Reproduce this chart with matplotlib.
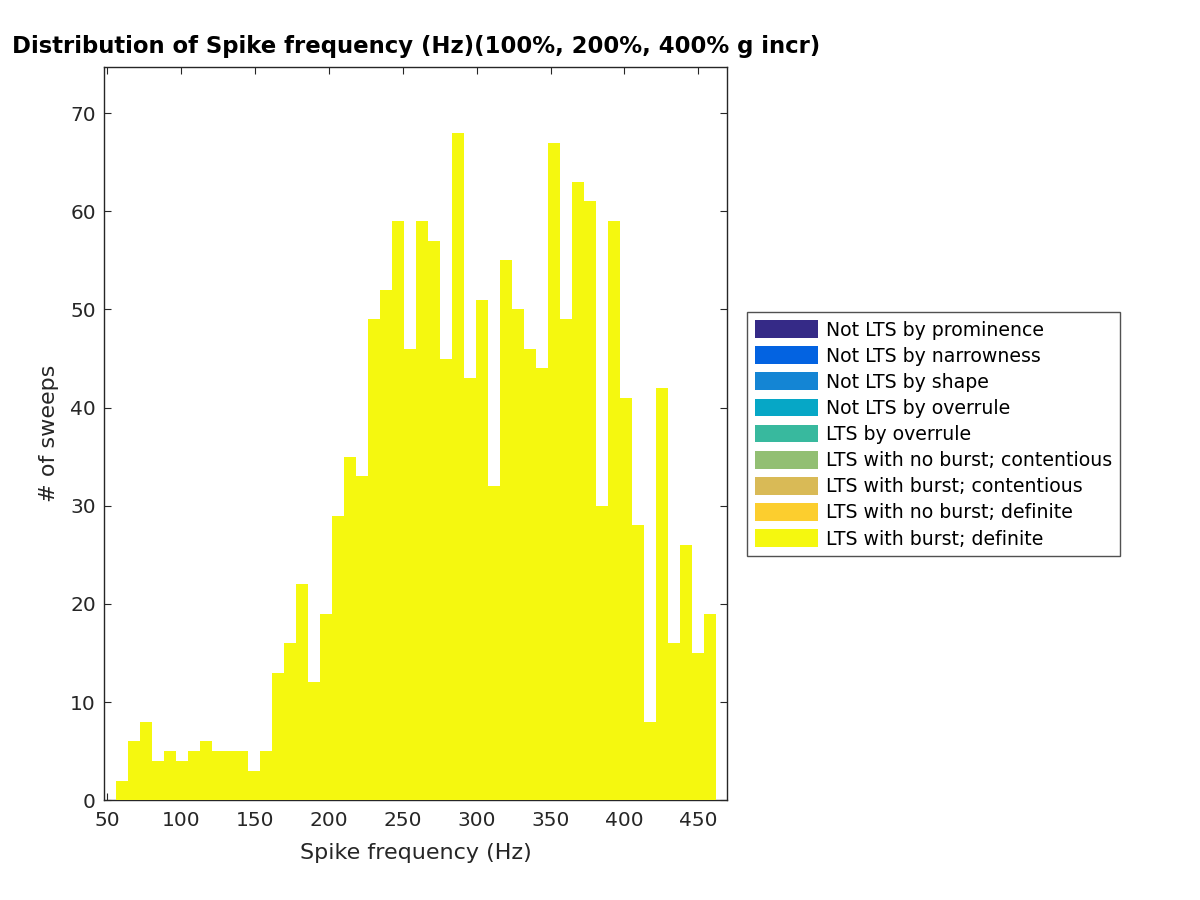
import matplotlib
matplotlib.use('Agg')
import matplotlib.pyplot as plt
import numpy as np

# categories of the stacked histogram (top of legend first)
categories = ['Not LTS by prominence', 'Not LTS by narrowness', 'Not LTS by shape',
              'Not LTS by overrule', 'LTS by overrule', 'LTS with no burst; contentious',
              'LTS with burst; contentious', 'LTS with no burst; definite',
              'LTS with burst; definite']
colors = ['#352a87', '#0363e1', '#1485d4', '#06a7c6', '#38b99e',
          '#92bf73', '#d9ba56', '#fcce2e', '#f5f80f']

# bin edges (Hz)
bin_edges = np.linspace(55.9, 461.9, 51)

# counts per bin, only the last category has sweeps
counts_burst_definite = [2, 6, 8, 4, 5, 4, 5, 6, 5, 5,
                         5, 3, 5, 13, 16, 22, 12, 19, 29, 35,
                         33, 49, 52, 59, 46, 59, 57, 45, 68, 43,
                         51, 32, 55, 50, 46, 44, 67, 49, 63, 61,
                         30, 59, 41, 28, 8, 42, 16, 26, 15, 19]
n_bins = len(counts_burst_definite)
counts = {c: [0] * n_bins for c in categories}
counts['LTS with burst; definite'] = counts_burst_definite

dark = '#262626'
plt.rcParams['font.family'] = 'DejaVu Sans'

fig = plt.figure(figsize=(12, 9), dpi=100)
ax = fig.add_axes([0.0869, 0.1108, 0.5192, 0.8148])

lefts = bin_edges[:-1]
widths = np.diff(bin_edges)
bottom = np.zeros(n_bins)
handles = []
for c, col in zip(categories, colors):
    h = np.array(counts[c], dtype=float)
    b = ax.bar(lefts, h, width=widths, bottom=bottom, align='edge',
               color=col, linewidth=0, label=c, zorder=1)
    handles.append(b)
    bottom += h

ax.set_xlim(48, 469.6)
ax.set_ylim(0, 74.7)
ax.set_xticks([50, 100, 150, 200, 250, 300, 350, 400, 450])
ax.set_yticks([0, 10, 20, 30, 40, 50, 60, 70])

ax.set_axisbelow(True)
for s in ax.spines.values():
    s.set_color(dark)
    s.set_linewidth(1.0)
    s.set_zorder(0.5)
ax.tick_params(direction='in', length=5, width=0.8, color=dark,
               labelcolor=dark, labelsize=14.5, top=True, right=True, pad=6)
ax.tick_params(axis='x', pad=8)

ax.set_xlabel('Spike frequency (Hz)', fontsize=16, color=dark, labelpad=9)
ax.set_ylabel('# of sweeps', fontsize=16, color=dark, labelpad=8)
ax.set_title('Distribution of Spike frequency (Hz)(100%, 200%, 400% g incr)',
             fontsize=16.4, fontweight='bold', color='black', pad=10)

leg = fig.legend(handles=handles, labels=categories, loc='upper left',
                 bbox_to_anchor=(0.6228, 0.653), borderaxespad=0,
                 fontsize=13.6, frameon=True, fancybox=False,
                 edgecolor=dark, handlelength=3.3, handleheight=1.07,
                 handletextpad=0.42, labelspacing=0.36, borderpad=0.42)
leg.get_frame().set_linewidth(1.0)

fig.savefig('out.png', dpi=100, facecolor='white')
